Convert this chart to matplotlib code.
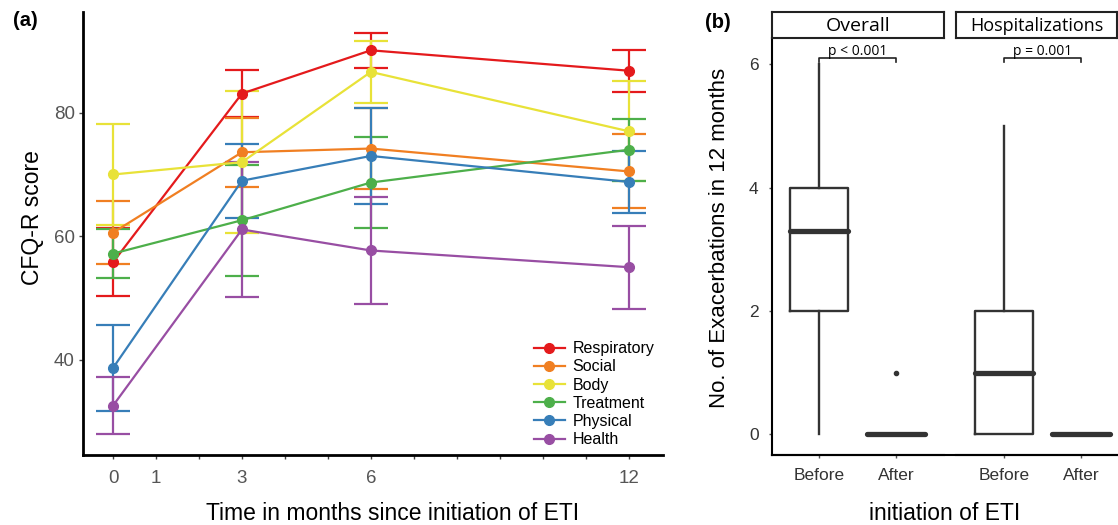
import numpy as np
import matplotlib
matplotlib.use("Agg")
from matplotlib import pyplot as plt
from matplotlib.lines import Line2D

plt.rcParams['font.family'] = ['Liberation Sans', 'DejaVu Sans']

# panel (a): CFQ-R domain scores over time
months = [0, 3, 6, 12]
domains = ["Respiratory", "Social", "Body", "Treatment", "Physical", "Health"]
colors = ["#E41A1C", "#F07F22", "#E8E238", "#4DAF4A", "#377EB8", "#984EA3"]
resp_mean = [55.8, 83.1, 90.1, 86.8]
resp_err = [5.5, 3.8, 2.8, 3.4]
social_mean = [60.6, 73.6, 74.2, 70.5]
social_err = [5.1, 5.6, 6.5, 6.0]
body_mean = [70.0, 72.0, 86.6, 77.0]
body_err = [8.2, 11.5, 5.0, 8.1]
treat_mean = [57.2, 62.6, 68.7, 74.0]
treat_err = [3.9, 9.0, 7.4, 5.0]
phys_mean = [38.7, 69.0, 73.0, 68.8]
phys_err = [6.9, 6.0, 7.8, 5.0]
health_mean = [32.6, 61.1, 57.7, 55.0]
health_err = [4.6, 11.0, 8.7, 6.7]
means = [resp_mean, social_mean, body_mean, treat_mean, phys_mean, health_mean]
errs = [resp_err, social_err, body_err, treat_err, phys_err, health_err]
xtick_labels = {0: "0", 1: "1", 3: "3", 6: "6", 12: "12"}

# panel (b): exacerbations before / after ETI (box stats)
facets = ["Overall", "Hospitalizations"]
groups = ["Before", "After"]
overall_stats = [(0, 2, 3.3, 4, 6, []), (0, 0, 0, 0, 0, [1])]
hosp_stats = [(0, 0, 1, 2, 5, []), (0, 0, 0, 0, 0, [])]
pvals = ["p < 0.001", "p = 0.001"]

fig = plt.figure(figsize=(11.18, 5.25), dpi=100)
W, H = 1118, 525

def box(l, t, r, b):
    return [l / W, 1 - b / H, (r - l) / W, (b - t) / H]

ax = fig.add_axes(box(83, 12, 663, 455))
for name, c, m, e in zip(domains, colors, means, errs):
    ax.errorbar(months, m, yerr=e, color=c, lw=1.6, marker="o", ms=7,
                capsize=12.5, capthick=1.6, elinewidth=1.6, label=name)
ax.set_xlim(-0.7, 12.8)
ax.set_ylim(24.6, 96.3)
ax.set_xticks(range(13))
ax.set_xticklabels([xtick_labels.get(i, "") for i in range(13)])
ax.set_yticks([40, 60, 80])
for s in ["top", "right"]:
    ax.spines[s].set_visible(False)
for s in ["left", "bottom"]:
    ax.spines[s].set_linewidth(2)
ax.tick_params(length=3, width=1, color="#444444", labelcolor="#555555",
               labelsize=13.5)
ax.tick_params(axis="y", pad=3)
ax.tick_params(axis="x", pad=8)
ax.set_ylabel("CFQ-R score", fontsize=16.5)
ax.yaxis.set_label_coords(-0.068, 0.535)
ax.set_xlabel("Time in months since initiation of ETI", fontsize=16.5)
ax.xaxis.set_label_coords(0.534, -0.105)
handles = [Line2D([], [], color=c, lw=1.6, marker="o", ms=7) for c in colors]
ax.legend(handles, domains, loc="lower right", bbox_to_anchor=(1.01, -0.015),
          frameon=False, fontsize=11.5, handlelength=1.9, labelspacing=0.2,
          handletextpad=0.5)
fig.text(25 / W, 1 - 21 / H, "(a)", fontsize=14.5, fontweight="bold",
         ha="center", va="center")

# panel (b)
panel_px = [(771.7, 944.3), (956, 1117)]
xlims = [(0.39, 2.62), (0.38, 2.47)]
all_stats = [overall_stats, hosp_stats]
axes_b = []
for k in range(2):
    l, r = panel_px[k]
    axb = fig.add_axes(box(l, 38.3, r, 455))
    axes_b.append(axb)
    bx = [dict(whislo=s[0], q1=s[1], med=s[2], q3=s[3], whishi=s[4],
               fliers=s[5]) for s in all_stats[k]]
    axb.bxp(bx, positions=[1, 2], widths=0.75, showcaps=False,
            boxprops=dict(color="#333333", lw=1.7),
            whiskerprops=dict(color="#333333", lw=1.7),
            medianprops=dict(color="#333333", lw=3.8, solid_capstyle="round"),
            flierprops=dict(marker="o", ms=3, mfc="#333333", mec="#333333"))
    axb.set_xlim(*xlims[k])
    axb.set_ylim(-0.335, 6.42)
    axb.set_xticks([1, 2])
    axb.set_xticklabels(groups)
    axb.set_yticks([0, 2, 4, 6])
    for s in ["top", "right"]:
        axb.spines[s].set_visible(False)
    axb.spines["bottom"].set_linewidth(1.5)
    axb.spines["left"].set_linewidth(1.5)
    axb.tick_params(length=2.5, width=1, color="#555555", labelcolor="#333333",
                    labelsize=12.5, pad=7)
    if k == 1:
        axb.spines["left"].set_visible(False)
        axb.tick_params(axis="y", left=False, labelleft=False)
    # significance bracket
    yb = 6.1
    axb.plot([1, 1, 2, 2], [yb - 0.06, yb, yb, yb - 0.06], color="#222222",
             lw=1.2, clip_on=False)
    axb.text(1.5, yb - 0.02, pvals[k], ha="center", va="bottom", fontsize=10,
             family=["Open Sans", "DejaVu Sans"])
    # strip
    strip = fig.add_axes(box(l, 11.7, r, 38.3))
    strip.set_xticks([])
    strip.set_yticks([])
    for s in strip.spines.values():
        s.set_linewidth(1.5)
        s.set_color("#222222")
    strip.text(0.5, 0.45, facets[k], ha="center", va="center",
               fontsize=[14, 13][k], family=["Open Sans", "DejaVu Sans"],
               transform=strip.transAxes)

fig.add_artist(Line2D([771.7 / W, 1.0], [1 - 455 / H, 1 - 455 / H],
                      color="black", lw=1.5))
axes_b[0].set_ylabel("No. of Exacerbations in 12 months", fontsize=16)
axes_b[0].yaxis.set_label_coords(-0.24, 0.52)
fig.text(945 / W, 1 - 514 / H, "initiation of ETI", fontsize=16.5,
         ha="center", va="center")
fig.text(718 / W, 1 - 22 / H, "(b)", fontsize=14.5, fontweight="bold",
         ha="center", va="center")

fig.savefig("out.png", dpi=100)
